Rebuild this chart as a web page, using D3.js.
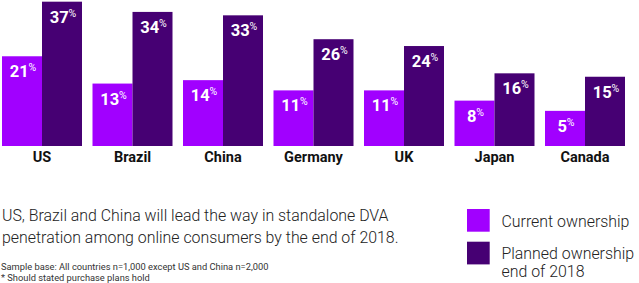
<!DOCTYPE html>
<html>
<head>
<meta charset="utf-8">
<script src="https://cdn.jsdelivr.net/npm/d3@7"></script>
<style>
  body { margin: 0; background: #fff; }
  svg { display: block; font-family: Roboto, "Liberation Sans", sans-serif; }
</style>
</head>
<body>
<svg class="chart" width="639" height="283"></svg>
<script>
// chart values
var countries = ['US', 'Brazil', 'China', 'Germany', 'UK', 'Japan', 'Canada'];
var currentOwnership = [21, 13, 14, 11, 11, 8, 5];
var plannedOwnership = [37, 34, 33, 26, 24, 16, 15];
var seriesNames = ['Current ownership', 'Planned ownership\nend of 2018'];
var seriesColors = ['#a100ff', '#460073'];

var headline = [
  'US, Brazil and China will lead the way in standalone DVA',
  'penetration among online consumers by the end of 2018.'
];
var notes = [
  'Sample base: All countries  n=1,000 except US and China n=2,000',
  '* Should stated purchase plans hold'
];

var svg = d3.select('svg.chart');

var baseline = 146;

// one band per country, two bars inside each band
var x0 = d3.scaleBand()
  .domain(countries)
  .range([-3.25, 630.25])
  .paddingInner(0.116)
  .paddingOuter(0.058);

var x1 = d3.scaleBand()
  .domain([0, 1])
  .range([0, x0.bandwidth()]);

// the original bars do not start at zero, so the domain sits a little below it
var y = d3.scaleLinear()
  .domain([-5.3, 37.2])
  .range([baseline, 1]);

var rows = countries.map(function(name, i) {
  return { name: name, values: [currentOwnership[i], plannedOwnership[i]] };
});

var groups = svg.selectAll('g.country')
  .data(rows)
  .enter().append('g')
  .attr('class', 'country')
  .attr('transform', function(d) { return 'translate(' + x0(d.name) + ',0)'; });

var bars = groups.selectAll('g.bar')
  .data(function(d) {
    return d.values.map(function(v, k) { return { value: v, series: k }; });
  })
  .enter().append('g')
  .attr('class', 'bar');

bars.append('rect')
  .attr('x', function(d) { return x1(d.series); })
  .attr('width', x1.bandwidth())
  .attr('y', function(d) { return y(d.value); })
  .attr('height', function(d) { return baseline - y(d.value); })
  .attr('fill', function(d) { return seriesColors[d.series]; });

var labels = bars.append('text')
  .attr('x', function(d) { return x1(d.series) + x1.bandwidth() / 2 + 1; })
  .attr('y', function(d) { return y(d.value) + 21; })
  .attr('text-anchor', 'middle')
  .attr('fill', '#fff')
  .attr('font-weight', 'bold')
  .attr('font-size', 16.5);

labels.append('tspan')
  .text(function(d) { return d.value; });

labels.append('tspan')
  .attr('font-size', 10.5)
  .attr('font-weight', 'normal')
  .attr('dy', -6)
  .text('%');

// country names under each group
groups.append('text')
  .attr('x', x0.bandwidth() / 2)
  .attr('y', 162)
  .attr('text-anchor', 'middle')
  .attr('font-weight', 'bold')
  .attr('font-size', 14.5)
  .attr('fill', '#111')
  .text(function(d) { return d.name; });

// headline
svg.append('text')
  .attr('x', 2)
  .attr('y', 221)
  .attr('font-size', 15.9)
  .attr('font-weight', 300)
  .attr('fill', '#222')
  .selectAll('tspan')
  .data(headline)
  .enter().append('tspan')
  .attr('x', 2)
  .attr('dy', function(d, i) { return i === 0 ? 0 : 21.5; })
  .text(function(d) { return d; });

// footnotes
svg.selectAll('text.note')
  .data(notes)
  .enter().append('text')
  .attr('class', 'note')
  .attr('x', 1)
  .attr('y', function(d, i) { return 269.5 + i * 11.5; })
  .attr('font-size', 9.3)
  .attr('fill', '#333')
  .text(function(d) { return d; });

// legend
var legend = svg.selectAll('g.legend')
  .data(seriesNames)
  .enter().append('g')
  .attr('class', 'legend')
  .attr('transform', function(d, i) { return 'translate(467,' + (209 + i * 32.7) + ')'; });

legend.append('rect')
  .attr('width', 22.7)
  .attr('height', 22.7)
  .attr('fill', function(d, i) { return seriesColors[i]; });

legend.append('text')
  .attr('font-size', 15.9)
  .attr('font-weight', 300)
  .attr('fill', '#222')
  .selectAll('tspan')
  .data(function(d) { return d.split('\n'); })
  .enter().append('tspan')
  .attr('x', 34.5)
  .attr('y', function(d, i) { return 17.5 + i * 17.7; })
  .text(function(d) { return d; });
</script>
</body>
</html>
